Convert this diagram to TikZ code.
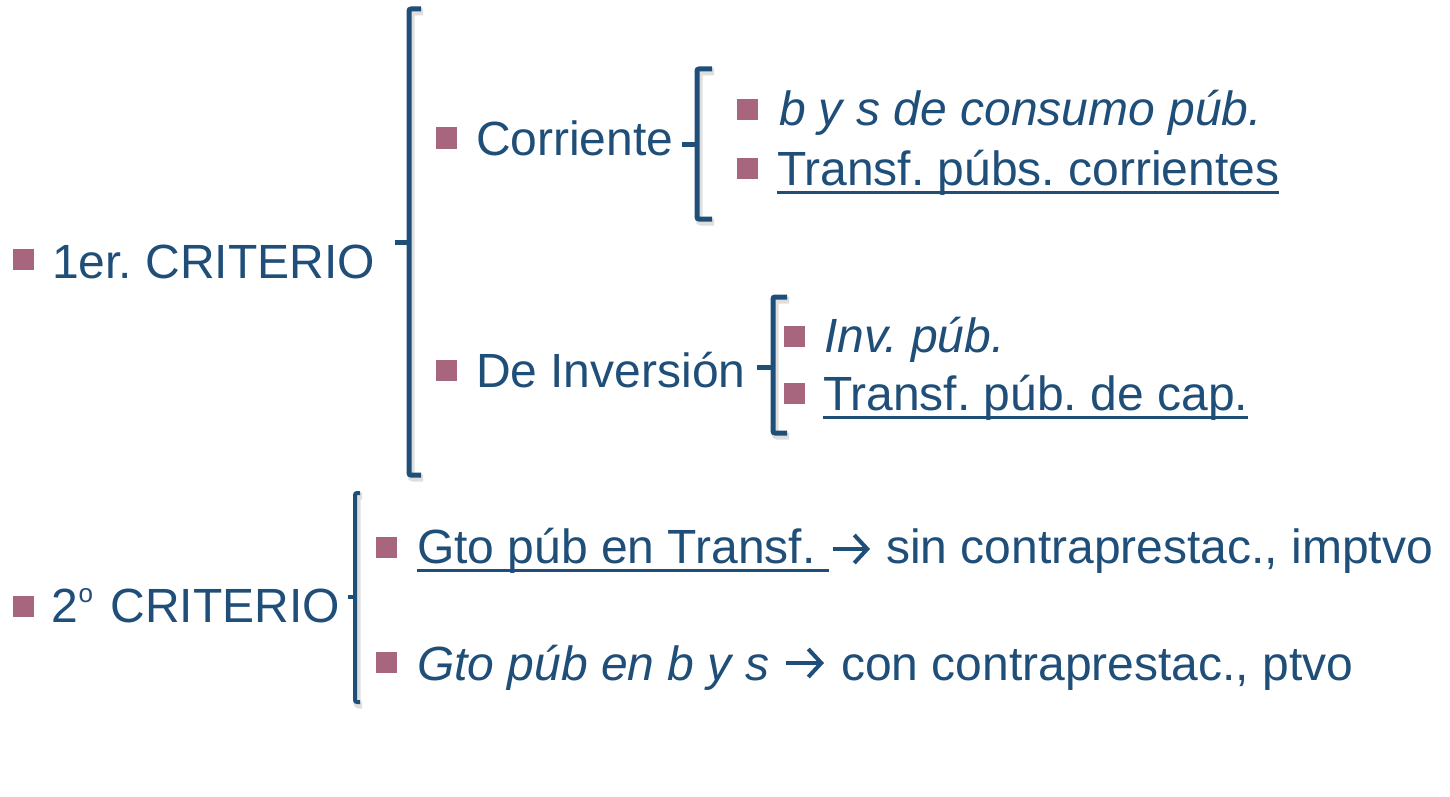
\documentclass[tikz,border=0pt]{standalone}
\usepackage{fontspec}
\setmainfont{Liberation Sans}
\usetikzlibrary{arrows.meta}
\definecolor{txtblue}{RGB}{31,78,121}
\definecolor{bulletc}{RGB}{168,102,126}
\begin{document}
\frenchspacing
\begin{tikzpicture}[x=1pt,y=-1pt,
  every node/.style={inner sep=0pt, outer sep=0pt, text=txtblue},
  lbl/.style={anchor=base west, font=\fontsize{48}{56}\selectfont},
  ilbl/.style={anchor=base west, font=\fontsize{48}{56}\selectfont\itshape},
  bul/.style={fill=bulletc, minimum size=21pt, draw=none, anchor=center},
  brk/.style={draw=txtblue, line width=5pt, rounded corners=2pt},
  brkshadow/.style={draw=black, opacity=0.13, line width=7pt, rounded corners=2pt},
  uline/.style={draw=txtblue, line width=3pt},
  implies/.style={draw=txtblue, line width=4pt, -{Straight Barb[length=13pt,width=28pt,line width=4pt]}}
]
\fill[white] (0,0) rectangle (1450,797);
\useasboundingbox (0,0) rectangle (1450,797);

% bracket shadows
\begin{scope}[xshift=2pt,yshift=-3pt]
\draw[brkshadow] (421,9) -- (409,9) -- (409,475) -- (421,475);
\draw[brkshadow] (712,69) -- (697,69) -- (697,219) -- (712,219);
\draw[brkshadow] (787,297) -- (773,297) -- (773,433) -- (787,433);
\draw[brkshadow] (360,493) -- (355,493) -- (355,702) -- (360,702);
\end{scope}

% brackets
\draw[brk] (421,9) -- (409,9) -- (409,475) -- (421,475);
\draw[brk] (409,242) -- (395,242);
\draw[brk] (712,69) -- (697,69) -- (697,219) -- (712,219);
\draw[brk] (697,144) -- (682,144);
\draw[brk] (787,297) -- (773,297) -- (773,433) -- (787,433);
\draw[brk] (773,367) -- (757,367);
\draw[brk, line width=4pt] (360,493) -- (355,493) -- (355,702) -- (360,702);
\draw[brk, line width=4pt] (355,597) -- (348,597);

% level 1
\node[bul] (b1) at (23,259) {};
\node[lbl] (c1) at (52,278) {1er. CRITERIO};
\node[bul] (b2) at (23,606) {};
\node[lbl] (c2) at (51,622) {2\hspace{1pt}\raisebox{20pt}{\fontsize{26}{26}\selectfont o}\hspace{4pt} CRITERIO};

% level 2 (first criterion)
\node[bul] (bc) at (446,138) {};
\node[lbl] (corr) at (476,155) {Corriente};
\node[bul] (bi) at (446,370) {};
\node[lbl] (inv) at (476,387) {De Inversión};

% level 3 corriente
\node[bul] (bc1) at (747,110) {};
\node[ilbl] (cc1) at (779,126) {b y s de consumo púb.};
\node[bul] (bc2) at (747,168) {};
\node[lbl] (cc2) at (777,185) {Transf. púbs. corrientes};
\draw[uline] ([yshift=-7pt]cc2.base west) -- ([yshift=-7pt]cc2.base east);

% level 3 inversion
\node[bul] (bi1) at (794,336) {};
\node[ilbl] (ii1) at (824,352) {Inv. púb.};
\node[bul] (bi2) at (794,393) {};
\node[lbl] (ii2) at (823,410) {Transf. púb. de cap.};
\draw[uline] ([yshift=-7pt]ii2.base west) -- ([yshift=-7pt]ii2.base east);

% second criterion items
\node[bul] (bg1) at (386,547) {};
\node[lbl] (g1) at (417,563) {Gto púb en Transf.\ \mbox{}};
\draw[uline] ([yshift=-7pt]g1.base west) -- ([yshift=-7pt]g1.base east);
\coordinate (a1s) at (833,549);
\coordinate (a1e) at (870,549);
\draw[implies] (a1s) -- (a1e);
\node[lbl] (g1r) at (886,563) {sin contraprestac., imptvo};

\node[bul] (bg2) at (386,662) {};
\node[ilbl] (g2) at (417,680) {Gto púb en b y s};
\coordinate (a2s) at (786,663);
\coordinate (a2e) at (824,663);
\draw[implies] (a2s) -- (a2e);
\node[lbl] (g2r) at (841,680) {con contraprestac., ptvo};
\end{tikzpicture}
\end{document}
